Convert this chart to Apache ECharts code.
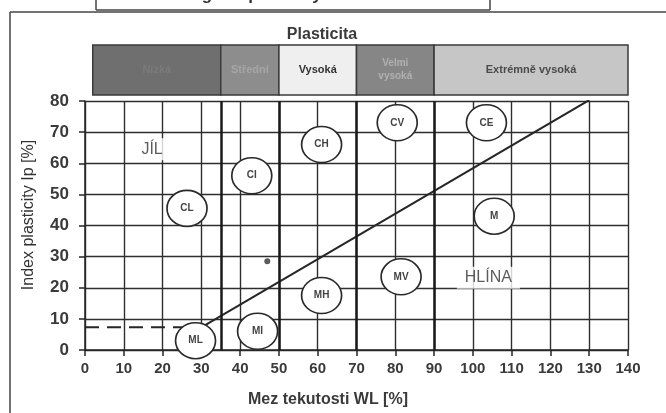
<!DOCTYPE html>
<html>
<head>
<meta charset="utf-8">
<script src="https://cdn.jsdelivr.net/npm/echarts@6/dist/echarts.min.js"></script>
<style>
  html, body { margin: 0; padding: 0; background: #fff; }
  #chart { width: 666px; height: 413px; }
</style>
</head>
<body>
<div id="chart"></div>
<script>
// pásmo plasticity (horní lišta)
const bandStart = [2, 35, 50, 70, 90]
const bandEnd = [35, 50, 70, 90, 140]
const bandNames = ['Nízká', 'Střední', 'Vysoká', 'Velmi\nvysoká', 'Extrémně vysoká']
const bandFill = ['#6f6f6f', '#8d8d8d', '#efefef', '#868686', '#c6c6c6']
const bandText = ['#7b7b7b', '#a6a6a6', '#333333', '#b0b0b0', '#4a4a4a']

// hranice pásem (silné svislé čáry)
const zoneLimits = [35, 50, 70, 90]

// symboly zemin v kroužcích
const soilCodes = ['CL', 'CI', 'CH', 'CV', 'CE', 'ML', 'MI', 'MH', 'MV', 'M']
const soilWL = [26.3, 43, 61, 80.5, 103.5, 28.5, 44.5, 61, 81.5, 105.5]
const soilIp = [45.5, 56, 66, 73, 73, 3, 6, 17.5, 23.5, 43]

// čára A a čárkovaná část
const aLineWL = [30, 130]
const aLineIp = [7.3, 80.3]
const dashWL = [0, 30]
const dashIp = [7.3, 7.3]

// popisy oblastí
const areaNames = ['JÍL', 'HLÍNA']
const areaWL = [17.3, 104]
const areaIp = [64.5, 23.2]

// osamocený bod
const dotWL = [47]
const dotIp = [28.5]

const xTicks = [0, 140, 10]
const yTicks = [0, 80, 10]

const chart = echarts.init(document.getElementById('chart'))

const font = '"Liberation Sans", Arial, sans-serif'
const ink = '#262626'

const option = {
  backgroundColor: '#ffffff',
  animation: false,
  textStyle: { fontFamily: font },
  grid: [
    { left: 85, right: 38, top: 101, bottom: 63 },
    { left: 85, right: 38, top: 45, height: 50 }
  ],
  xAxis: [
    {
      gridIndex: 0,
      type: 'value',
      min: xTicks[0],
      max: xTicks[1],
      interval: xTicks[2],
      axisLine: { show: true, lineStyle: { color: ink, width: 1.5 } },
      axisTick: { show: true, length: 6, lineStyle: { color: ink, width: 1.5 } },
      axisLabel: { fontSize: 15, fontWeight: 'bold', color: '#3a3a3a', margin: 11, fontFamily: font },
      splitLine: { show: true, lineStyle: { color: '#2e2e2e', width: 1.4 } }
    },
    {
      gridIndex: 1,
      type: 'value',
      min: xTicks[0],
      max: xTicks[1],
      show: false
    }
  ],
  yAxis: [
    {
      gridIndex: 0,
      type: 'value',
      min: yTicks[0],
      max: yTicks[1],
      interval: yTicks[2],
      axisLine: { show: true, lineStyle: { color: ink, width: 1.5 } },
      axisTick: { show: true, length: 6, lineStyle: { color: ink, width: 1.5 } },
      axisLabel: { fontSize: 17, fontWeight: 'bold', color: '#3a3a3a', margin: 16, fontFamily: font },
      splitLine: { show: true, lineStyle: { color: '#2e2e2e', width: 1.4 } }
    },
    {
      gridIndex: 1,
      type: 'value',
      min: 0,
      max: 1,
      show: false
    }
  ],
  series: [
    {
      // lišta plasticity
      type: 'custom',
      xAxisIndex: 1,
      yAxisIndex: 1,
      data: bandStart.map((s, i) => [s, bandEnd[i], i]),
      renderItem: (params, api) => {
        const i = api.value(2)
        const p0 = api.coord([api.value(0), 1])
        const p1 = api.coord([api.value(1), 0])
        return {
          type: 'group',
          children: [
            {
              type: 'rect',
              shape: { x: p0[0], y: p0[1], width: p1[0] - p0[0], height: p1[1] - p0[1] },
              style: { fill: bandFill[i], stroke: '#3a3a3a', lineWidth: 1.5 }
            },
            {
              type: 'text',
              x: (p0[0] + p1[0]) / 2,
              y: (p0[1] + p1[1]) / 2,
              style: {
                text: bandNames[i],
                align: 'center',
                verticalAlign: 'middle',
                fill: bandText[i],
                fontSize: i === 3 ? 10 : 11,
                fontWeight: 'bold',
                fontFamily: font,
                lineHeight: 13
              }
            }
          ]
        }
      }
    },
    {
      // hranice pásem
      type: 'line',
      data: [],
      markLine: {
        silent: true,
        symbol: 'none',
        label: { show: false },
        lineStyle: { color: '#1a1a1a', width: 2.5, type: 'solid' },
        data: zoneLimits.map(v => ({ xAxis: v }))
      }
    },
    {
      // čárkovaná čára
      type: 'line',
      data: dashWL.map((w, i) => [w, dashIp[i]]),
      symbol: 'none',
      lineStyle: { color: ink, width: 2, type: [14, 8] },
      z: 3
    },
    {
      // čára A
      type: 'line',
      data: aLineWL.map((w, i) => [w, aLineIp[i]]),
      symbol: 'none',
      lineStyle: { color: ink, width: 2 },
      z: 3
    },
    {
      type: 'scatter',
      data: dotWL.map((w, i) => [w, dotIp[i]]),
      symbolSize: 6,
      itemStyle: { color: '#333' },
      z: 4
    },
    {
      // zeminy v kroužcích
      type: 'scatter',
      data: soilWL.map((w, i) => [w, soilIp[i], soilCodes[i]]),
      symbol: 'circle',
      symbolSize: [40, 36],
      itemStyle: { color: '#ffffff', borderColor: '#2a2a2a', borderWidth: 1.6, opacity: 1 },
      label: {
        show: true,
        position: 'inside',
        formatter: p => p.value[2],
        fontSize: 10,
        fontWeight: 'bold',
        color: '#444',
        fontFamily: font
      },
      z: 5
    },
    {
      // JÍL, HLÍNA
      type: 'scatter',
      data: areaWL.map((w, i) => [w, areaIp[i], areaNames[i]]),
      symbolSize: 0,
      label: {
        show: true,
        position: 'inside',
        formatter: p => p.value[2],
        fontSize: 16,
        color: '#333',
        fontFamily: font,
        backgroundColor: '#ffffff',
        padding: [3, 8]
      },
      z: 5
    }
  ],
  graphic: [
    // vnější rámeček
    { type: 'line', shape: { x1: 10, y1: 12, x2: 666, y2: 12 }, style: { stroke: '#444', lineWidth: 1.5 } },
    { type: 'line', shape: { x1: 10, y1: 12, x2: 10, y2: 413 }, style: { stroke: '#444', lineWidth: 1.5 } },
    // rámeček nadpisu (uříznutý)
    { type: 'line', shape: { x1: 96, y1: 0, x2: 96, y2: 10 }, style: { stroke: '#444', lineWidth: 1.5 } },
    { type: 'line', shape: { x1: 96, y1: 10, x2: 490, y2: 10 }, style: { stroke: '#444', lineWidth: 1.5 } },
    { type: 'line', shape: { x1: 490, y1: 0, x2: 490, y2: 10 }, style: { stroke: '#444', lineWidth: 1.5 } },
    {
      type: 'text', x: 310, y: -5,
      style: { text: 'Diagram plasticity zemin dle ČSN', align: 'center', verticalAlign: 'middle', fontSize: 17, fontWeight: 'bold', fill: '#333', fontFamily: font }
    },
    {
      type: 'text', x: 322, y: 35,
      style: { text: 'Plasticita', align: 'center', verticalAlign: 'middle', fontSize: 16, fontWeight: 'bold', fill: '#3a3a3a', fontFamily: font }
    },
    {
      type: 'text', x: 29, y: 215, rotation: Math.PI / 2,
      style: { text: 'Index plasticity Ip [%]', align: 'center', verticalAlign: 'middle', fontSize: 16, fill: '#333', fontFamily: font }
    },
    {
      type: 'text', x: 328, y: 400,
      style: { text: 'Mez tekutosti WL [%]', align: 'center', verticalAlign: 'middle', fontSize: 16, fontWeight: 'bold', fill: '#3a3a3a', fontFamily: font }
    }
  ]
}

chart.setOption(option)
</script>
</body>
</html>
